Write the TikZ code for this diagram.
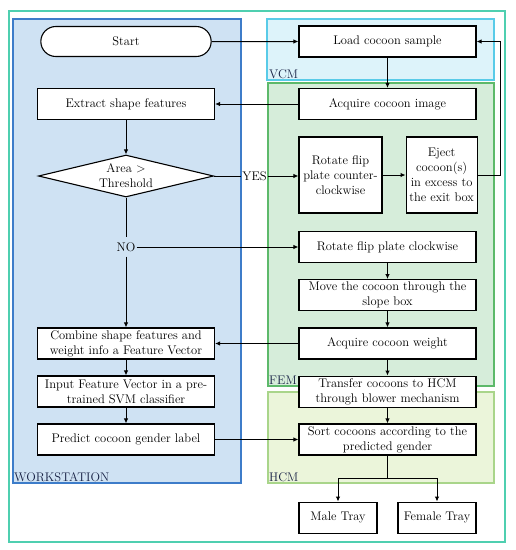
\documentclass[tikz,border=0pt]{standalone}
\usepackage{tikz}
\usetikzlibrary{shapes.geometric,shapes.misc,arrows.meta,positioning,calc,backgrounds}
\definecolor{wsfill}{RGB}{207,226,243}
\definecolor{wsline}{RGB}{61,124,201}
\definecolor{vcmfill}{RGB}{221,243,250}
\definecolor{vcmline}{RGB}{89,203,232}
\definecolor{femfill}{RGB}{214,237,218}
\definecolor{femline}{RGB}{93,185,106}
\definecolor{hcmfill}{RGB}{235,245,218}
\definecolor{hcmline}{RGB}{169,213,138}
\definecolor{outerline}{RGB}{79,207,176}
\definecolor{tagtext}{RGB}{25,35,70}

\begin{document}
\begin{tikzpicture}[
    x=1pt, y=1pt,
    node distance=16pt and 23pt,
    every node/.style={font=\fontsize{12.5}{15}\selectfont},
    box/.style={rectangle, draw=black, fill=white, line width=1.1pt,
                minimum width=177pt, minimum height=31pt, inner sep=2pt, align=center},
    smallbox/.style={box, minimum width=83pt, minimum height=76pt},
    traybox/.style={box, minimum width=78pt},
    startbox/.style={rounded rectangle, draw=black, fill=white, line width=1.1pt,
                minimum width=177pt, minimum height=30pt},
    decision/.style={diamond, draw=black, fill=white, line width=1.1pt, aspect=4.2,
                inner sep=0pt, minimum width=175pt, minimum height=42pt, align=center},
    arrow/.style={-{Latex[length=5pt,width=4.5pt]}, line width=1pt},
    line/.style={line width=1pt},
    region/.style={line width=1.1pt},
    tag/.style={inner sep=1pt, anchor=south west, text=tagtext}
]
\useasboundingbox (0,0) rectangle (516,-550);

% Regions
\draw[region, draw=outerline] (9,-11) rectangle (505,-542);
\draw[region, draw=wsline, fill=wsfill] (13,-19) rectangle (241,-483);
\draw[region, draw=vcmline, fill=vcmfill] (267,-19) rectangle (494,-80);
\draw[region, draw=femline, fill=femfill] (268,-83) rectangle (494,-386);
\draw[region, draw=hcmline, fill=hcmfill] (268,-392) rectangle (494,-483);
\node[tag] (vcmtag) at (268,-80) {VCM};
\node[tag] (femtag) at (268,-386) {FEM};
\node[tag] (hcmtag) at (268,-483) {HCM};
\node[tag] (wstag)  at (13,-483) {WORKSTATION};

% Column 1 -- Workstation
\node[startbox] (start) at (126,-41.5) {Start};
\node[box] (extract) at (126,-104) {Extract shape features};
\node[decision] (area) at (126,-176) {Area \textgreater\\Threshold};

% Column 2 -- Machine
\node[box] (load) at (387.5,-41.5) {Load cocoon sample};
\node[box] (acqimg) at (387.5,-104) {Acquire cocoon image};
\node[smallbox] (ccw) at (340.5,-175) {Rotate flip\\plate counter-\\clockwise};
\node[smallbox, minimum width=71pt, right=of ccw] (eject)
    {Eject\\cocoon(s)\\in excess to\\the exit box};
\node[box] (cw) at (387.5,-247) {Rotate flip plate clockwise};
\node[box, below=of cw] (move) {Move the cocoon through the\\slope box};
\node[box] (weight) at (387.5,-343.5) {Acquire cocoon weight};
\node[box, below=of weight] (transfer) {Transfer cocoons to HCM\\through blower mechanism};
\node[box] (sort) at (387.5,-439.5) {Sort cocoons according to the\\predicted gender};
\node[traybox, below=46pt of sort.south west, anchor=north west] (male) {Male Tray};
\node[traybox, below=46pt of sort.south east, anchor=north east] (female) {Female Tray};

% Classifier chain (left column)
\node[box] (combine) at (start |- weight) {Combine shape features and\\weight info a Feature Vector};
\node[box] (predict) at (start |- sort) {Predict cocoon gender label};
\node[box] (input) at ($(combine)!0.5!(predict)$) {Input Feature Vector in a pre-\\trained SVM classifier};

% Branch labels
\node[inner sep=1pt] (yes) at ($(area.east)!0.48!(area.east -| ccw.west)$) {YES};
\node[inner sep=1pt, inner ysep=5pt] (no) at (area |- cw) {NO};

% Main flow
\draw[arrow] (start) -- (load);
\draw[arrow] (load) -- (acqimg);
\draw[arrow] (acqimg) -- (extract);
\draw[arrow] (extract) -- (area);
\draw[line] (area.east) -- (yes);
\draw[arrow] (yes) -- (yes -| ccw.west);
\draw[arrow] (ccw) -- (eject);
\draw[arrow] (eject.east) -- ++(23,0) |- (load.east);
\draw[line] (area.south) -- (no);
\draw[arrow] (no) -- (cw);
\draw[arrow] (no) -- (combine);

% Weighing chain
\draw[arrow] (cw) -- (move);
\draw[arrow] (move) -- (weight);
\draw[arrow] (weight) -- (transfer);
\draw[arrow] (transfer) -- (sort);
\draw[arrow] (weight) -- (combine);

% Classification
\draw[arrow] (combine) -- (input);
\draw[arrow] (input) -- (predict);
\draw[arrow] (predict) -- (sort);

% Trays
\draw[line] (sort.south) -- ++(0,-23) coordinate (split);
\draw[arrow] (split) -| (male);
\draw[arrow] (split) -| (female);

\end{tikzpicture}
\end{document}
